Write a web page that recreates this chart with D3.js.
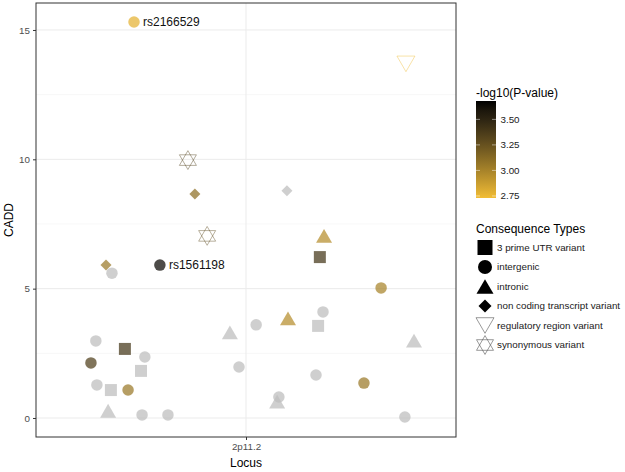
<!DOCTYPE html>
<html><head><meta charset="utf-8">
<script src="https://cdn.jsdelivr.net/npm/d3@7"></script>
<style>body{margin:0;background:#fff}svg{font-family:"Liberation Sans",Arial,sans-serif}</style>
</head><body><svg id="c" width="625" height="472"></svg>
<script>
// ---- data ----
const locusLabels = ["2p11.2"];
const consequenceTypes = ["3 prime UTR variant","intergenic","intronic","non coding transcript variant","regulatory region variant","synonymous variant"];
// jitter offset around the single locus (category position 1)
const jitterX = [-0.32,0.457,-0.166,-0.146,0.117,-0.111,0.223,0.211,-0.4,-0.383,-0.246,0.386,-0.429,-0.346,-0.289,-0.443,-0.3,-0.426,-0.386,-0.337,-0.394,-0.297,-0.223,-0.046,0.029,-0.02,0.22,0.12,0.206,0.48,0.2,0.337,0.094,0.089,0.454];
const cadd = [15.31,13.69,9.97,8.66,8.78,7.04,7.04,6.22,5.91,5.6,5.91,5.03,2.98,2.67,2.36,2.13,1.82,1.28,1.08,1.08,0.28,0.12,0.12,3.31,3.6,1.97,4.1,3.85,3.56,2.99,1.66,1.35,0.81,0.63,0.04];
const consequence = [1,4,5,3,3,5,2,0,3,1,1,1,1,0,1,1,0,1,0,1,2,1,1,2,1,1,1,2,0,2,1,1,1,2,1];
const negLogP = [2.78,2.74,3.35,3.1,null,3.3,2.95,3.4,3.05,null,3.66,3.0,null,3.4,null,3.35,null,null,null,3.05,null,null,null,null,null,null,null,2.95,null,null,null,3.05,null,null,null];
const snpLabels = ["rs2166529",null,null,null,null,null,null,null,null,null,"rs1561198",null,null,null,null,null,null,null,null,null,null,null,null,null,null,null,null,null,null,null,null,null,null,null,null];
const yTicks = [0,5,10,15];
const yMinor = [2.5,7.5,12.5];
const colorTicks = [2.75,3.00,3.25,3.50];

// ---- layout ----
const svg = d3.select("#c");
const P = {l:36, r:456, t:3, b:437};
const x = d3.scaleLinear().domain([0.4,1.6]).range([P.l,P.r]);
const y = d3.scaleLinear().domain([-0.735,16.043]).range([P.b,P.t]);
const col = d3.scaleLinear().domain([2.73,3.68]).range(["#f2bd34","#000000"]).interpolate(d3.interpolateLab);
const NA = "#bdbdbd";

// shape paths, s = nominal width
function shapePath(k, s){
  const h=s/2;
  switch(k){
    case 0: return `M${-h},${-h}H${h}V${h}H${-h}Z`;
    case 1: return d3.symbol(d3.symbolCircle, Math.PI*h*h)();
    case 2: { const th=s*0.866; return `M0,${-th/2}L${h},${th/2}L${-h},${th/2}Z`; }
    case 3: return `M0,${-h}L${h},0L0,${h}L${-h},0Z`;
    case 4: { const th=s*0.866; return `M0,${th/2}L${h},${-th/2}L${-h},${-th/2}Z`; }
    case 5: { const th=s*0.866, o=th*0.14; return `M0,${-th/2-o}L${h},${th/2-o}L${-h},${th/2-o}Z M0,${th/2+o}L${h},${-th/2+o}L${-h},${-th/2+o}Z`; }
  }
}
const ptSize = [12,11.5,16,11,18,17];
const legSize = [15,14,17,13,18,17];

// panel background & grid
svg.append("rect").attr("x",P.l).attr("y",P.t).attr("width",P.r-P.l).attr("height",P.b-P.t).attr("fill","#fff");
const g = svg.append("g");
g.selectAll(".ymin").data(yMinor).join("line").attr("x1",P.l).attr("x2",P.r).attr("y1",d=>y(d)).attr("y2",d=>y(d)).attr("stroke","#f2f2f2").attr("stroke-width",0.6);
g.selectAll(".ymaj").data(yTicks).join("line").attr("x1",P.l).attr("x2",P.r).attr("y1",d=>y(d)).attr("y2",d=>y(d)).attr("stroke","#ebebeb").attr("stroke-width",1);
g.append("line").attr("x1",x(1)).attr("x2",x(1)).attr("y1",P.t).attr("y2",P.b).attr("stroke","#ebebeb").attr("stroke-width",1);

// points
const pts = cadd.map((v,i)=>({x:1+jitterX[i], y:v, k:consequence[i], p:negLogP[i], lab:snpLabels[i]}));
const pg = svg.append("g");
pts.forEach(d=>{
  const c = d.p==null ? NA : col(d.p);
  const open = d.k>=4;
  pg.append("path").attr("d",shapePath(d.k, ptSize[d.k]))
    .attr("transform",`translate(${x(d.x)},${y(d.y)})`)
    .attr("fill",open?"none":c).attr("fill-opacity",0.72)
    .attr("stroke",open?c:"none").attr("stroke-opacity",0.72).attr("stroke-width",0.6);
});
pts.filter(d=>d.lab).forEach(d=>{
  pg.append("text").attr("x",x(d.x)+9).attr("y",y(d.y)).attr("dy","0.35em")
    .attr("font-size","12px").attr("fill","#111").text(d.lab);
});

// panel border
svg.append("rect").attr("x",P.l).attr("y",P.t).attr("width",P.r-P.l).attr("height",P.b-P.t).attr("fill","none").attr("stroke","#333").attr("stroke-width",1);

// axes
const ya = svg.append("g").attr("transform",`translate(${P.l},0)`).call(d3.axisLeft(y).tickValues(yTicks).tickSize(3).tickPadding(3));
const xa = svg.append("g").attr("transform",`translate(0,${P.b})`).call(d3.axisBottom(x).tickValues([1]).tickFormat(()=>locusLabels[0]).tickSize(3).tickPadding(3));
[ya,xa].forEach(a=>{a.select(".domain").remove(); a.selectAll("line").attr("stroke","#333"); a.selectAll("text").attr("fill","#4d4d4d").attr("font-size","9.8px").attr("font-family","Liberation Sans, Arial, sans-serif");});
svg.append("text").attr("x",x(1)).attr("y",467).attr("text-anchor","middle").attr("font-size","12px").text("Locus");
svg.append("text").attr("transform","translate(13,220) rotate(-90)").attr("text-anchor","middle").attr("font-size","12px").text("CADD");

// colour legend
const cb = {x:476, y0:101, y1:198, w:20};
const cs = d3.scaleLinear().domain([2.73,3.68]).range([cb.y1,cb.y0]);
const defs = svg.append("defs");
const grad = defs.append("linearGradient").attr("id","gr").attr("x1",0).attr("y1",1).attr("x2",0).attr("y2",0);
d3.range(0,1.0001,0.1).forEach(t=>grad.append("stop").attr("offset",t).attr("stop-color",col(2.73+t*(3.68-2.73))));
svg.append("text").attr("x",cb.x).attr("y",97).attr("font-size","12px").text("-log10(P-value)");
svg.append("rect").attr("x",cb.x).attr("y",cb.y0).attr("width",cb.w).attr("height",cb.y1-cb.y0).attr("fill","url(#gr)");
colorTicks.forEach(v=>{
  const yy=cs(v);
  svg.append("line").attr("x1",cb.x).attr("x2",cb.x+4).attr("y1",yy).attr("y2",yy).attr("stroke","#fff").attr("stroke-opacity",0.8).attr("stroke-width",0.6);
  svg.append("line").attr("x1",cb.x+cb.w-4).attr("x2",cb.x+cb.w).attr("y1",yy).attr("y2",yy).attr("stroke","#fff").attr("stroke-opacity",0.8).attr("stroke-width",0.6);
  svg.append("text").attr("x",cb.x+cb.w+4.5).attr("y",yy).attr("dy","0.35em").attr("font-size","9.8px").attr("fill","#1a1a1a").text(d3.format(".2f")(v));
});

// shape legend
svg.append("text").attr("x",476).attr("y",233).attr("font-size","12px").text("Consequence Types");
consequenceTypes.forEach((t,i)=>{
  const yy = 247.5 + i*19.5;
  const open = i>=4;
  svg.append("path").attr("d",shapePath(i, legSize[i])).attr("transform",`translate(485,${yy})`)
    .attr("fill",open?"none":"#000").attr("stroke",open?"#555":"none").attr("stroke-width",0.6);
  svg.append("text").attr("x",497).attr("y",yy).attr("dy","0.35em").attr("font-size","9.8px").attr("fill","#1a1a1a").text(t);
});
</script></body></html>
